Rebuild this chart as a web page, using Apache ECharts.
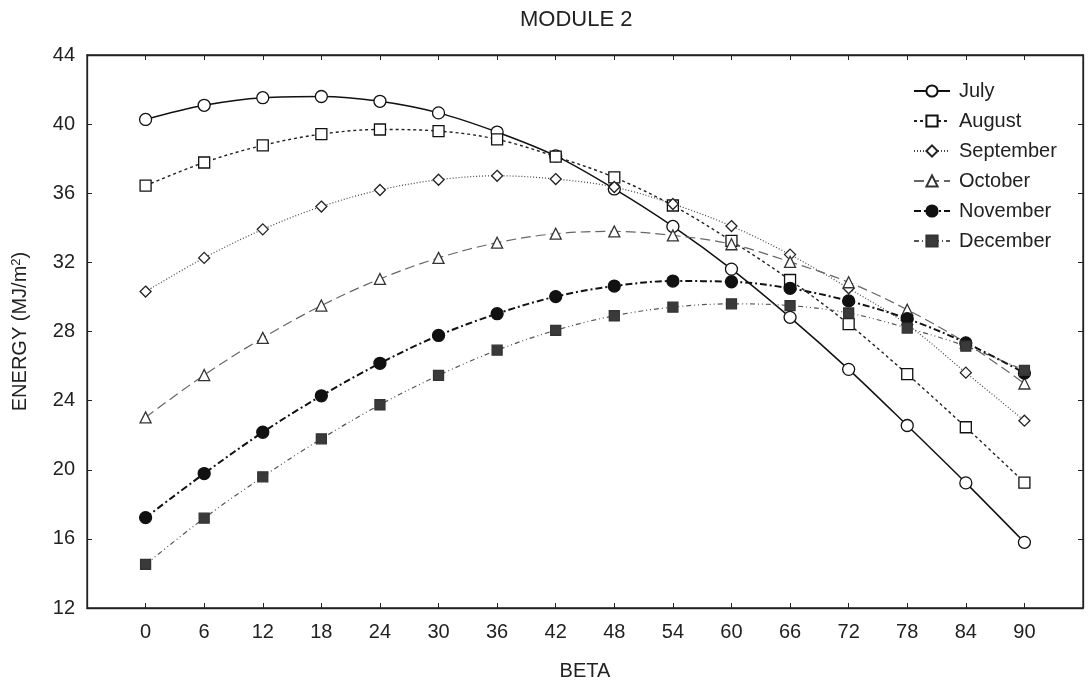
<!DOCTYPE html>
<html><head><meta charset="utf-8">
<script src="https://cdn.jsdelivr.net/npm/echarts@6/dist/echarts.min.js"></script>
<style>html,body{margin:0;padding:0;background:#fff}#c{width:1091px;height:686px}</style>
</head><body><div id="c"></div>
<script>
const beta = [0,6,12,18,24,30,36,42,48,54,60,66,72,78,84,90];
const july      = [40.27,41.09,41.53,41.6,41.32,40.65,39.54,38.16,36.25,34.08,31.61,28.82,25.81,22.56,19.24,15.8];
const august    = [36.44,37.78,38.77,39.42,39.69,39.6,39.12,38.12,36.92,35.29,33.24,30.98,28.43,25.53,22.46,19.26];
const september = [30.31,32.26,33.91,35.23,36.19,36.78,37.01,36.82,36.36,35.38,34.1,32.45,30.5,28.4,25.62,22.84];
const october   = [23.03,25.48,27.63,29.5,31.04,32.26,33.14,33.66,33.79,33.56,33.05,32.03,30.85,29.26,27.34,24.99];
const november  = [17.23,19.78,22.17,24.28,26.16,27.77,29.03,30.02,30.63,30.92,30.88,30.5,29.77,28.74,27.34,25.6];
const december  = [14.52,17.2,19.59,21.79,23.76,25.46,26.92,28.07,28.91,29.41,29.6,29.5,29.07,28.2,27.15,25.75];
const yTicks = [12,16,20,24,28,32,36,40,44];

const font = '"Liberation Sans", Arial, sans-serif';
function pairs(v){ return beta.map((b,i)=>[b,v[i]]); }
function mk(name, data, symbol, size, fill, stroke, lineColor, width, dash){
  return {
    name, type:'line', data: pairs(data), smooth:0.35,
    symbol, symbolSize:size, showSymbol:true,
    itemStyle:{color:fill, borderColor:stroke, borderWidth:1.3, opacity:1},
    lineStyle:{color:lineColor, width, type:dash},
    emphasis:{disabled:true}, animation:false, z:3
  };
}
const chart = echarts.init(document.getElementById('c'), null, {renderer:'canvas'});
const axisLine = {show:true, onZero:false, lineStyle:{color:'#222', width:1.3}};
const tick = {show:true, inside:true, length:5, lineStyle:{color:'#222'}};
chart.setOption({
  backgroundColor:'#fff',
  animation:false,
  title:{text:'MODULE 2', left:515, top:4, textStyle:{fontFamily:font, fontSize:22, fontWeight:'normal', color:'#222'}},
  legend:{
    orient:'vertical', left:908, top:76, itemWidth:36, itemHeight:14, itemGap:10,
    textStyle:{fontFamily:font, fontSize:20, color:'#222', padding:[0,0,0,4]},
    data:['July','August','September','October','November','December']
  },
  grid:{left:87, right:8, top:55, bottom:71, show:true, borderColor:'#222', borderWidth:1.3},
  xAxis:[
    {type:'value', min:-6, max:96, interval:6, position:'bottom',
     name:'BETA', nameLocation:'middle', nameGap:53,
     nameTextStyle:{fontFamily:font, fontSize:20, color:'#222'},
     axisLine, axisTick:tick,
     axisLabel:{fontFamily:font, fontSize:20, color:'#222', margin:14,
       formatter:v=> (v<0||v>90)?'':String(v)},
     splitLine:{show:false}},
    {type:'value', min:-6, max:96, interval:6, position:'top',
     axisLine, axisTick:tick,
     axisLabel:{show:false}, splitLine:{show:false}}
  ],
  yAxis:[
    {type:'value', min:yTicks[0], max:yTicks[yTicks.length-1], interval:4, position:'left',
     name:'ENERGY (MJ/m{sup|2})', nameLocation:'middle', nameGap:56, nameRotate:90,
     nameTextStyle:{fontFamily:font, fontSize:20, color:'#222',
       rich:{sup:{fontFamily:font, fontSize:13, color:'#222', verticalAlign:'top', padding:[0,0,8,0]}}},
     axisLine, axisTick:tick,
     axisLabel:{fontFamily:font, fontSize:20, color:'#222', margin:12},
     splitLine:{show:false}},
    {type:'value', min:yTicks[0], max:yTicks[yTicks.length-1], interval:4, position:'right',
     axisLine, axisTick:tick,
     axisLabel:{show:false}, splitLine:{show:false}}
  ],
  series:[
    mk('July', july, 'circle', 12, '#fff', '#111', '#111', 1.5, 'solid'),
    mk('August', august, 'rect', 11, '#fff', '#111', '#222', 1.4, [3,3]),
    mk('September', september, 'diamond', 11, '#fff', '#222', '#444', 1.2, [1,2]),
    mk('October', october, 'triangle', 11, '#fff', '#333', '#666', 1.2, [10,5]),
    mk('November', november, 'circle', 12, '#111', '#111', '#111', 2, [7,3,2,3]),
    mk('December', december, 'rect', 10, '#3a3a3a', '#333', '#555', 1.2, [5,3,1,3,1,3])
  ]
});
</script></body></html>
